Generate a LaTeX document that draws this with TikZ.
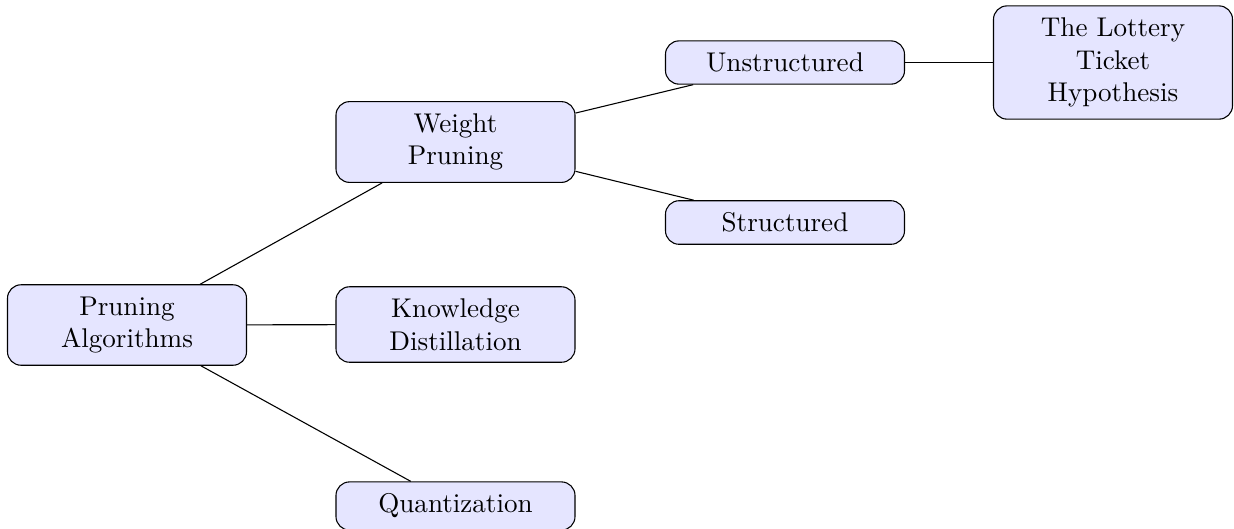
\documentclass[tikz,border=0pt]{standalone}
\usepackage{tikz}
\begin{document}
\begin{tikzpicture}[
  x=0.369pt, y=-0.369pt,
  box/.style={draw, rounded corners=5pt, fill=blue!10, text width=62pt,
    align=center, minimum width=88.2pt, inner xsep=2pt, inner ysep=4.4pt},
  link/.style={draw, line width=0.4pt}
]
\useasboundingbox (0,0) rectangle (1234,528);

% level 0
\node[box] (pa) at (127,325) {Pruning Algorithms};
% level 1
\node[box] (wp) at (455.5,142) {Weight Pruning};
\node[box] (kd) at (455.5,324.5) {Knowledge Distillation};
\node[box] (qz) at (455.5,506) {Quantization};
% level 2
\node[box] (un) at (785,62.5) {Unstructured};
\node[box] (st) at (785,222.5) {Structured};
% level 3
\node[box] (lt) at (1113,62.5) {The Lottery Ticket Hypothesis};

\draw[link] (pa) -- (wp);
\draw[link] (pa) -- (kd);
\draw[link] (pa) -- (qz);
\draw[link] (wp) -- (un);
\draw[link] (wp) -- (st);
\draw[link] (un) -- (lt);
\end{tikzpicture}
\end{document}
